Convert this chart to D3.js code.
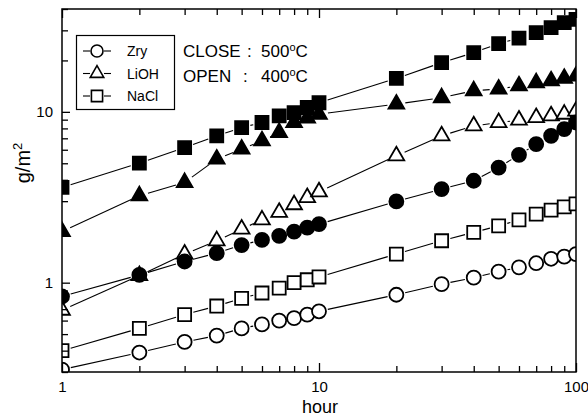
<!DOCTYPE html>
<html><head><meta charset="utf-8">
<script src="https://cdn.jsdelivr.net/npm/d3@7"></script>
<style>body{margin:0;background:#fff}svg{display:block;font-family:"Liberation Sans",Arial,sans-serif}</style>
</head><body><svg id="c" width="588" height="418"></svg>
<script>
const hours = [1,2,3,4,5,6,7,8,9,10,20,30,40,50,60,70,80,90,100];
const zryOpen    = [0.31,0.39,0.45,0.49,0.54,0.57,0.60,0.62,0.65,0.68,0.85,0.98,1.07,1.16,1.23,1.30,1.38,1.42,1.47];
const naclOpen   = [0.40,0.54,0.65,0.73,0.81,0.87,0.93,1.00,1.04,1.08,1.47,1.76,1.97,2.15,2.33,2.52,2.66,2.78,2.89];
const liohOpen   = [0.69,1.10,1.47,1.76,2.06,2.33,2.58,2.86,3.15,3.40,5.53,7.24,8.28,8.65,8.94,9.26,9.48,9.69,10.1];
const zryClosed  = [0.83,1.11,1.33,1.49,1.66,1.78,1.88,1.99,2.10,2.20,2.99,3.53,3.95,4.72,5.60,6.47,7.24,7.92,8.66];
const liohClosed = [1.99,3.23,3.86,5.29,6.05,6.77,7.57,8.66,9.20,9.69,11.1,12.1,13.3,13.6,14.2,14.8,15.2,15.7,16.2];
const naclClosed = [3.61,5.01,6.18,7.24,8.09,8.66,9.48,9.90,10.6,11.3,15.7,19.4,22.2,25.1,27.0,29.1,31.1,33.3,34.8];
const legendLabels = ["Zry","LiOH","NaCl"];
const xTickValues = [1,2,3,4,5,6,7,8,9,10,20,30,40,50,60,70,80,90,100];
const xTickLabels = [1,10,100];
const yTickValues = [0.3,0.4,0.5,0.6,0.7,0.8,0.9,1,2,3,4,5,6,7,8,9,10,20,30,40];
const yTickLabels = [1,10];

const series = [
  {vals: zryOpen, shape:"circle", fill:"#fff"},
  {vals: naclOpen, shape:"square", fill:"#fff"},
  {vals: liohOpen, shape:"triangle", fill:"#fff"},
  {vals: zryClosed, shape:"circle", fill:"#000"},
  {vals: liohClosed, shape:"triangle", fill:"#000"},
  {vals: naclClosed, shape:"square", fill:"#000"}
];

const L=62,R=576,T=9,B=372;
const svg=d3.select("#c");
const x=d3.scaleLog().domain([1,100]).range([L,R]);
const y=d3.scaleLog().domain([0.3,40]).range([B,T]);

svg.append("defs").append("clipPath").attr("id","clip")
  .append("rect").attr("x",L).attr("y",T).attr("width",R-L).attr("height",B-T);

function markerPath(shape, s){
  if(shape==="circle") return d3.symbol(d3.symbolCircle, Math.PI*s*s)();
  if(shape==="square") return d3.symbol(d3.symbolSquare, (2*s*0.93)*(2*s*0.93))();
  const a=2.25*s, h=a*Math.sqrt(3)/2;
  return `M0,${-2*h/3}L${a/2},${h/3}L${-a/2},${h/3}Z`;
}

const plot=svg.append("g").attr("clip-path","url(#clip)");
const gap=9;
series.forEach(sr=>{
  const pts=hours.map((h,i)=>[x(h),y(sr.vals[i])]);
  const segs=[];
  for(let i=0;i<pts.length-1;i++){
    const [x1,y1]=pts[i],[x2,y2]=pts[i+1];
    const dx=x2-x1,dy=y2-y1,len=Math.hypot(dx,dy);
    if(len>2*gap+1){
      const ux=dx/len,uy=dy/len;
      segs.push([x1+ux*gap,y1+uy*gap,x2-ux*gap,y2-uy*gap]);
    }
  }
  plot.selectAll(null).data(segs).enter().append("line")
    .attr("x1",d=>d[0]).attr("y1",d=>d[1]).attr("x2",d=>d[2]).attr("y2",d=>d[3])
    .attr("stroke","#000").attr("stroke-width",1.1);
  plot.selectAll(null).data(pts).enter().append("path")
    .attr("d",markerPath(sr.shape,7))
    .attr("transform",d=>`translate(${d[0]},${d[1]})`)
    .attr("fill",sr.fill).attr("stroke","#000").attr("stroke-width",1.8);
});

const major=v=>Math.abs(Math.log10(v)-Math.round(Math.log10(v)))<1e-9;
function styleAx(g){
  g.select(".domain").remove();
  g.selectAll(".tick line").attr("stroke","#000").attr("stroke-width",1.3);
  g.selectAll("text").attr("fill","#000").attr("font-size",15);
  g.attr("font-family",null);
}
const gx=svg.append("g").attr("transform",`translate(0,${B})`)
  .call(d3.axisBottom(x).tickValues(xTickValues).tickSize(-6).tickPadding(9)
    .tickFormat(v=>xTickLabels.includes(v)?v:""));
styleAx(gx);
gx.selectAll(".tick line").attr("y2",d=>major(d)?-9:-6);
const gt=svg.append("g").attr("transform",`translate(0,${T})`)
  .call(d3.axisTop(x).tickValues(xTickValues).tickSize(-6).tickFormat(""));
styleAx(gt);
gt.selectAll(".tick line").attr("y2",d=>major(d)?9:6);
const gy=svg.append("g").attr("transform",`translate(${L},0)`)
  .call(d3.axisLeft(y).tickValues(yTickValues).tickSize(-6).tickPadding(9)
    .tickFormat(v=>yTickLabels.includes(v)?v:""));
styleAx(gy);
gy.selectAll(".tick line").attr("x2",d=>major(d)?8:6);

svg.append("rect").attr("x",L).attr("y",T).attr("width",R-L).attr("height",B-T)
  .attr("fill","none").attr("stroke","#000").attr("stroke-width",1.5);

svg.append("text").attr("x",320).attr("y",413).attr("text-anchor","middle")
  .attr("font-size",18).text("hour");
const yl=svg.append("text").attr("transform","translate(30,163) rotate(-90)")
  .attr("text-anchor","middle").attr("font-size",20);
yl.append("tspan").text("g/m");
yl.append("tspan").attr("font-size",13).attr("dy",-8).text("2");

svg.append("rect").attr("x",76.5).attr("y",35.5).attr("width",98).attr("height",74)
  .attr("fill","#fff").attr("stroke","#000").attr("stroke-width",1.2);
const legShapes=["circle","triangle","square"];
legendLabels.forEach((lab,i)=>{
  const cy=51+i*22.5, cx=97;
  svg.append("line").attr("x1",83).attr("x2",90).attr("y1",cy).attr("y2",cy).attr("stroke","#000").attr("stroke-width",1.1);
  svg.append("line").attr("x1",104).attr("x2",111).attr("y1",cy).attr("y2",cy).attr("stroke","#000").attr("stroke-width",1.1);
  svg.append("path").attr("d",markerPath(legShapes[i],6)).attr("transform",`translate(${cx},${cy})`)
    .attr("fill","#fff").attr("stroke","#000").attr("stroke-width",1.6);
  svg.append("text").attr("x",127).attr("y",cy+5).attr("font-size",14).text(lab);
});

function ann(yy, word, colonX, numX, num){
  const t=svg.append("g").attr("font-size",17);
  t.append("text").attr("x",183).attr("y",yy).text(word);
  t.append("text").attr("x",colonX).attr("y",yy).text(":");
  const n=t.append("text").attr("x",numX).attr("y",yy);
  n.append("tspan").text(num);
  n.append("tspan").attr("font-size",11).attr("dy",-6).text("o");
  n.append("tspan").attr("dy",6).text("C");
}
ann(57,"CLOSE",247,261,"500");
ann(82,"OPEN",243,261,"400");
</script></body></html>
